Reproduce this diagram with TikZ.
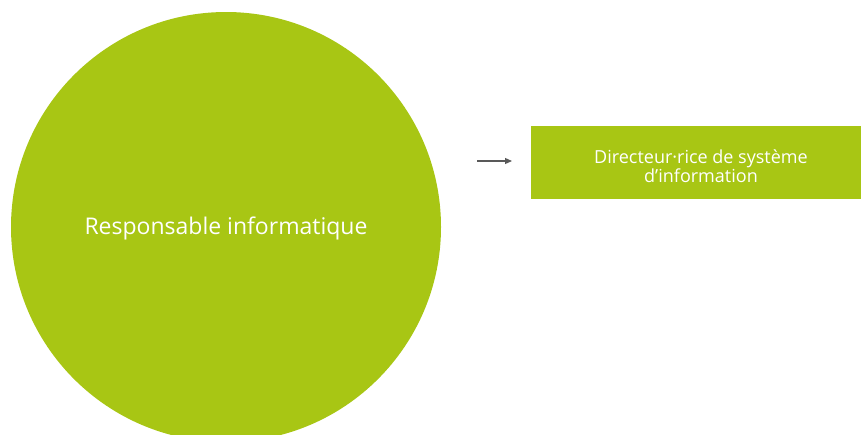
\documentclass[tikz,border=0pt]{standalone}
\usepackage{fontspec}
\setmainfont{Open Sans}
\usetikzlibrary{arrows.meta}
\definecolor{lime}{RGB}{168,198,20}
\definecolor{arrowgray}{RGB}{89,89,89}
\tikzset{
  bubble/.style={circle, fill=lime, minimum size=430pt, inner sep=0pt},
  bubbletext/.style={text=white, font=\fontsize{23}{27}\selectfont},
  box/.style={rectangle, fill=lime, minimum width=330pt, minimum height=73pt, inner sep=0pt, anchor=north west},
  boxtext/.style={text=white, align=center, font=\fontsize{18}{18.5}\selectfont},
  link/.style={draw=arrowgray, line width=1.2pt, -{Triangle[length=7pt,width=6pt]}}
}
\begin{document}
\begin{tikzpicture}[x=1pt,y=-1pt]
\useasboundingbox (0,0) rectangle (861,434);
\begin{scope}
\clip (0,0) rectangle (861,434);
\node[bubble] (c) at (226,227) {};
\end{scope}
\node[bubbletext] (ct) at (226,228) {Responsable informatique};
\node[box] (b) at (531,126) {};
\node[boxtext] (bt) at (701,166) {Directeur·rice de système\\d’information};
\coordinate (a1) at (477,161);
\coordinate (a2) at (512,161);
\draw[link] (a1) -- (a2);
\end{tikzpicture}
\end{document}
